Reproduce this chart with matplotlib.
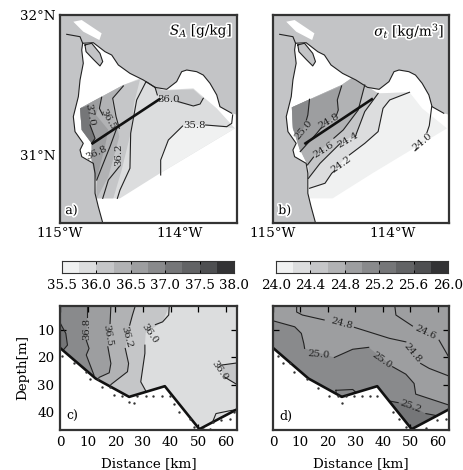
import matplotlib
matplotlib.use("Agg")
import matplotlib.pyplot as plt
import matplotlib.patheffects as pe
import numpy as np

plt.rcParams['font.family'] = 'DejaVu Serif'
plt.rcParams['mathtext.fontset'] = 'dejavuserif'

W, H = 464, 470
LON0 = -115.0
# greys of the ten colour classes
GREYS = ['#f0f1f1', '#dcddde', '#c5c6c8', '#b1b2b4', '#9d9ea0', '#898a8c', '#757678', '#626365', '#4e4f51', '#323234']
LAND = '#c3c4c6'
FRAME = '#333333'

# ---- coastline (degrees east of 115W, degrees N)
water = [(.189,31.798),(.278,31.802),(.375,31.738),(.431,31.714),(.486,31.643),(.583,31.583),(.694,31.536),
         (.792,31.483),(.889,31.469),(.972,31.524),(1.014,31.595),(1.056,31.607),(1.139,31.595),(1.194,31.571),
         (1.25,31.512),(1.306,31.429),(1.333,31.345),(1.431,31.298),(1.48,31.286)]
water_w = [(.361,30.5),(.319,30.631),(.292,30.726),(.292,30.869),(.278,30.94),(.181,30.988),(.167,31.036),
           (.194,31.083),(.125,31.167),(.111,31.274),(.153,31.417),(.167,31.536),(.194,31.655),(.181,31.75),(.189,31.798)]
delta_isl = [(.208,31.786),(.264,31.798),(.333,31.726),(.356,31.667),(.333,31.636),(.278,31.683),(.217,31.738),(.208,31.786)]
salt_flat = [(.111,31.952),(.181,31.964),(.347,31.869),(.328,31.821),(.194,31.881)]
river = [(.056,31.862),(.167,31.845),(.189,31.798)]
section_line = [(.272,31.083),(.828,31.398)]

# ---- panel a: absolute salinity
region = [(.167,31.333),(.528,31.5),(.667,31.548),(.792,31.483),(.861,31.464),(1.111,31.476),(1.306,31.333),
          (1.458,31.19),(.833,30.869),(.5,30.69),(.292,30.69),(.306,30.821),(.264,30.964),(.264,31.083),(.181,31.179)]
west = [(.292,30.69),(.306,30.821),(.264,30.964),(.264,31.083),(.181,31.179),(.167,31.333)]
sa_fills = [
 (0, [(.833,30.869),(.839,30.988),(.903,31.107),(1.028,31.214),(1.194,31.214),(1.458,31.19)]),
 (2, [(.792,31.483),(.861,31.46),(1.111,31.469),(1.194,31.405),(1.139,31.35),(1.0,31.369),(.833,31.412)]),
 (2, [(.528,31.5),(.667,31.54),(.617,31.369),(.589,31.155),(.514,30.893),(.444,30.69)] + west),
 (3, [(.528,31.5),(.431,31.393),(.458,31.274),(.494,31.131),(.403,30.845),(.306,30.69)] + west[1:]),
 (4, [(.347,31.417),(.3,31.286),(.403,31.179),(.375,31.06),(.3,30.81)] + west[2:]),
 (6, [(.244,31.357),(.25,31.226),(.292,31.107),(.264,31.083),(.181,31.179),(.167,31.333)]),
]
sa_lines = [
 [(.839,30.857),(.839,30.964),(.903,31.107),(1.022,31.207)],
 [(1.214,31.214),(1.389,31.202),(1.431,31.226),(1.439,31.286)],
 [(.792,31.483),(.811,31.429)],
 [(.986,31.381),(1.111,31.35),(1.167,31.364),(1.194,31.405)],
 [(.792,31.483),(.717,31.524),(.639,31.393),(.589,31.155),(.583,30.905),(.5,30.75),(.478,30.69)],
 [(.528,31.493),(.439,31.405),(.467,31.274),(.494,31.19)],
 [(.494,30.917),(.403,30.821),(.356,30.69)],
 [(.347,31.412),(.328,31.333),(.356,31.286)],
 [(.472,31.19),(.417,31.06),(.361,30.94),(.306,30.821)],
 [(.25,31.214),(.292,31.119),(.264,31.083)],
]
sa_labels = [('36.0',.903,31.393,0),('35.8',1.125,31.214,0),('36.2',.492,31.0,90),('36.8',.306,31.012,25),
             ('36.5',.403,31.25,-60),('37.0',.25,31.286,-80)]

# ---- panel b: sigma-t
st_base = [(.158,31.34),(.575,31.5),(.658,31.548),(.769,31.5),(.881,31.44),(1.144,31.448),(1.25,31.333),
           (1.458,31.19),(.833,30.869),(.5,30.69),(.306,30.69),(.306,30.762),(.297,30.917),(.228,31.036),(.167,31.19)]
st_w = [(.297,30.917),(.228,31.036),(.167,31.19),(.158,31.34),(.575,31.5),(.658,31.548),(.769,31.5)]
st_fills = [
 (1, [(.881,31.44),(1.144,31.448),(.978,31.393),(.922,31.333),(.881,31.167),(.769,31.083),(.617,30.988),
      (.492,30.869),(.436,30.798),(.306,30.762)] + st_w),
 (2, [(.881,31.44),(.769,31.31),(.7,31.155),(.547,31.071),(.394,30.94),(.297,30.833)] + st_w),
 (3, [(.714,31.321),(.589,31.179),(.478,31.095),(.339,30.988),(.289,30.929)] + st_w[1:]),
 (4, [(.575,31.493),(.539,31.393),(.547,31.321),(.478,31.238),(.367,31.155),(.228,31.024),(.167,31.19),(.158,31.34)]),
 (5, [(.306,31.398),(.292,31.286),(.256,31.19),(.186,31.155),(.167,31.19),(.158,31.34)]),
]
st_lines = [
 [(1.144,31.448),(.978,31.393),(.922,31.333),(.881,31.167),(.769,31.083),(.64,31.0)],
 [(.52,30.89),(.492,30.869),(.436,30.798),(.306,30.762)],
 [(.881,31.44),(.769,31.31),(.7,31.155),(.69,31.13)],
 [(.56,31.08),(.394,30.94),(.297,30.833)],
 [(.769,31.5),(.714,31.321),(.589,31.179),(.51,31.12)],
 [(.34,30.985),(.289,30.929)],
 [(.575,31.493),(.539,31.393),(.547,31.321),(.53,31.28)],
 [(.40,31.19),(.367,31.155),(.228,31.024)],
 [(.306,31.398),(.292,31.286),(.28,31.25)],
 [(1.33,31.345),(1.31,31.21),(1.29,31.16)],
 [(1.21,31.05),(1.19,31.03)],
]
st_labels = [('25.0',.256,31.183,50),('24.8',.472,31.238,30),('24.6',.422,31.036,32),('24.4',.631,31.107,30),
             ('24.2',.575,30.929,35),('24.0',1.256,31.095,40)]

# ---- colour bars
sa_levels = np.linspace(35.5, 38.0, 11)
st_levels = np.linspace(24.0, 26.0, 11)
sa_ticks = [35.5, 36.0, 36.5, 37.0, 37.5, 38.0]
st_ticks = [24.0, 24.4, 24.8, 25.2, 25.6, 26.0]

# ---- sections: bottom and measurement points
bottom_km = [0, 12.9, 25, 37.9, 50.4, 63.9]
bottom_depth = [16.5, 27.7, 34.4, 30.5, 46.2, 39]
c_dots = [(.8,19.5),(5.1,22.2),(9.3,25.2),(10.7,28),(13.9,28),(15.1,30.7),(18,30.7),(19.6,33.8),(22.3,34),(25,36.2),
          (26.8,36.6),(28,34),(31,34),(33.8,34),(36.8,34),(39.7,34),(41.3,37.1),(43.1,39.9),(47,42.6),(48.6,45.4),
          (51.6,46),(54.2,46),(55.2,43.5),(58.2,42.9),(61.6,42.6),(63,39.9)]
d_dots = [(1.8,19.5),(3.6,22.2),(6.3,22.2),(7.6,25.2),(12.3,28),(16.3,31),(20.5,34),(23.6,34),(26.6,34),(29.6,34),
          (32.4,34),(35.3,34),(38,34),(25.1,36.6),(43.7,39.9),(45.7,42.3),(48.3,45.4),(55.6,45.8),(59.8,42.8),(62.8,42.4)]

TOP, BOT = 1.2, 46.5
c_fills = [
 (1, [(0,TOP),(64,TOP),(64,BOT),(0,BOT)]),
 (0, [(55.2,43.5),(56.4,40.5),(61.2,39.5),(64,39),(64,BOT),(55.2,BOT)]),
 (2, [(57.6,22.8),(64,22),(64,29.9),(59.4,27.1)]),
 (2, [(0,TOP),(39.5,TOP),(37.1,7),(31,11),(30.7,15.5),(30.7,18.5),(29.2,28.9),(31,32.2),(31,BOT),(0,BOT)]),
 (3, [(0,TOP),(27.2,TOP),(26.2,4.5),(24.6,12),(23.6,16.7),(24.8,22.2),(24.4,25.2),(18.4,29.9),(18.4,BOT),(0,BOT)]),
 (4, [(0,TOP),(18.4,TOP),(18.1,7.6),(17.3,16.1),(18.4,22.2),(17.8,25.6),(14.1,27.3),(14.1,BOT),(0,BOT)]),
 (5, [(0,TOP),(9.9,TOP),(9.7,9),(9.5,13.7),(10.5,16.7),(9.5,19.1),(12.3,26.5),(12.3,BOT),(0,BOT)]),
 (6, [(0,7.3),(2.1,11.2),(2.7,15.5),(0,18)]),
]
c_lines = [
 [(9.9,TOP),(9.9,5.1)],
 [(9.5,13.7),(10.5,16.7),(9.5,19.1),(12.3,26.5)],
 [(18.4,TOP),(18.1,7.6)],
 [(17.3,16.1),(18.4,22.2),(17.8,25.6),(14.1,27.3)],
 [(27.2,TOP),(26.2,4.5),(25.2,8.2)],
 [(23.6,16.7),(24.8,22.2),(24.4,25.2),(18.4,29.9)],
 [(39.5,TOP),(39.3,4.5),(37.1,7),(34.5,8)],
 [(30.7,15.5),(30.7,18.5),(29.2,28.9),(31,32.2)],
 [(0,7.3),(2.1,11.2),(2.7,15.5),(1,17.5)],
 [(64,22),(58.2,22.8)],
 [(59.4,27.1),(64,29.9)],
 [(55.2,43.5),(56.4,40.5),(61.2,39.5),(64,39)],
]
c_labels = [('36.8',9.7,9.5,90),('36.5',17.4,12,-80),('36.2',24.2,12.5,-75),('36.0',32.5,11.2,-55),('36.0',57.6,24.8,-55)]

d_fills = [
 (4, [(0,TOP),(64,TOP),(64,BOT),(0,BOT)]),
 (3, [(8.6,TOP),(8.6,3.4),(10.7,4.5),(18.6,6.3),(29.6,9),(42.3,13),(48.3,14.3),(53.7,22.2),(56.8,24),(64,26.8),(64,TOP)]),
 (2, [(44.3,TOP),(44.7,4.5),(50.7,8.5),(60.4,13.7),(64,20),(64,TOP)]),
 (5, [(0,6.6),(7.9,8.8),(10.3,11.2),(11.2,14.9),(11.5,16.7),(22.3,20),(29,17),(34.8,16.3),(43.5,23.4),(48.3,26.1),(51.3,29.5),(51.9,33.4),(64,37.4),(64,BOT),(0,BOT)]),
 (6, [(42.3,35.9),(48,36.8),(55.6,40.5),(59.8,41.3),(59.8,BOT),(42.3,BOT)]),
]
d_lines = [
 [(44.3,TOP),(44.7,4.5),(50.7,8.5)],
 [(60.4,13.7),(64,20)],
 [(8.6,TOP),(8.6,3.4),(10.7,4.5),(18.6,6.3)],
 [(29.6,9),(42.3,13),(48.3,14.3)],
 [(53.7,22.2),(56.8,24),(64,26.8)],
 [(0,6.6),(7.9,8.8),(10.3,11.2),(11.2,14.9),(11.5,16.7)],
 [(22.3,20),(29,17),(34.8,16.3)],
 [(43.5,23.4),(48.3,26.1),(51.3,29.5),(51.9,33.4),(64,37.4)],
 [(42.3,35.9),(45.5,36.5)],
 [(55.6,40.5),(59.8,41.3)],
 [(22.9,32),(29,31.7),(30,32.6),(26.6,34.4),(23,33.8),(22.9,32)],
]
d_labels = [('24.8',25,7.6,-15),('24.6',55.5,11,-25),('24.8',50.8,18.5,-50),('25.0',16.5,19,-5),('25.0',39.5,21,-35),('25.2',50,37.8,-20)]


def axes_px(l, t, r, b):
    return fig.add_axes([l / W, 1 - b / H, (r - l) / W, (b - t) / H])


def shift(pts):
    return [(LON0 + x, y) for x, y in pts]


def style(ax):
    for s in ax.spines.values():
        s.set_linewidth(1.6)
        s.set_color(FRAME)
        s.set_zorder(20)


halo = [pe.withStroke(linewidth=2.5, foreground='white')]


def map_panel(ax, base, fills, lines, labels, title, letter, tx):
    ax.set_facecolor(LAND)
    ax.fill(*zip(*shift(water + [(1.48, 30.5)] + water_w)), color='white', lw=0, zorder=1)
    ax.fill(*zip(*shift(salt_flat)), color='white', lw=0, zorder=1)
    ax.fill(*zip(*shift(base)), color=GREYS[0] if letter == 'b)' else GREYS[1], lw=0, zorder=2)
    for i, p in fills:
        ax.fill(*zip(*shift(p)), color=GREYS[i], lw=0, zorder=2 + 0.01 * i)
    ax.fill(*zip(*shift(delta_isl)), color=LAND, lw=0, zorder=3)
    for p in (water[:-1], water_w, delta_isl, river):
        ax.plot(*zip(*shift(p)), color='#222222', lw=0.8, zorder=4)
    for p in lines:
        ax.plot(*zip(*shift(p)), color='#222222', lw=0.8, zorder=5)
    ax.plot(*zip(*shift(section_line)), color='#111111', lw=1.9, zorder=6)
    for s, x, y, r in labels:
        ax.text(LON0 + x, y, s, fontsize=7.3, rotation=r, ha='center', va='center', color='#222222', zorder=7)
    ax.text(tx, 0.925, title, transform=ax.transAxes, fontsize=9.8, ha='right', va='center', path_effects=halo, zorder=8)
    ax.text(0.03, 0.06, letter, transform=ax.transAxes, fontsize=9, ha='left', va='center', path_effects=halo, zorder=8)
    ax.set_xlim(LON0, LON0 + 1.475)
    ax.set_ylim(30.514, 32.0)
    ax.set_xticks([-115, -114])
    ax.set_xticklabels(['115°W', '114°W'], fontsize=9.7)
    ax.set_yticks([31, 32])
    ax.tick_params(length=0, pad=3)
    style(ax)


def colorbar(ax, levels, ticks):
    ax.pcolormesh(levels, [0, 1], np.arange(10).reshape(1, 10), cmap=matplotlib.colors.ListedColormap(GREYS))
    ax.set_xlim(levels[0], levels[-1])
    ax.set_yticks([])
    ax.set_xticks(ticks)
    ax.set_xticklabels([f'{t:.1f}' for t in ticks], fontsize=9.7)
    ax.tick_params(axis='x', direction='in', length=2.5, width=0.7, pad=4, top=True)
    for s in ax.spines.values():
        s.set_linewidth(0.8)
        s.set_color(FRAME)


def section(ax, fills, lines, labels, dots, letter):
    for i, p in fills:
        ax.fill(*zip(*p), color=GREYS[i], lw=0, zorder=1 + 0.01 * i)
    for p in lines:
        ax.plot(*zip(*p), color='#222222', lw=0.8, zorder=3)
    ax.fill(bottom_km + [64, 0], bottom_depth + [BOT + 1, BOT + 1], color='white', lw=0, zorder=4)
    ax.plot(bottom_km, bottom_depth, color='#111111', lw=1.9, zorder=5, clip_on=True)
    ax.scatter(*zip(*dots), s=3, color='#333333', lw=0, zorder=6)
    for s, x, y, r in labels:
        ax.text(x, y, s, fontsize=7.2, rotation=r, ha='center', va='center', color='#222222', zorder=7)
    ax.text(2.4, 41.5, letter, fontsize=9, ha='left', va='center', zorder=8)
    ax.set_xlim(0, 64)
    ax.set_ylim(BOT, TOP)
    ax.set_xticks(range(0, 61, 10))
    ax.set_yticks([10, 20, 30, 40])
    ax.tick_params(direction='in', top=True, right=True, length=4.5, width=0.9, labelsize=9.7, zorder=10, pad=4)
    ax.set_xlabel('Distance [km]', fontsize=9.7, labelpad=6)
    style(ax)


fig = plt.figure(figsize=(W / 100, H / 100), dpi=100)

a = axes_px(60, 15, 237, 223)
map_panel(a, region, sa_fills, sa_lines, sa_labels, r'$S_A$ [g/kg]', 'a)', 0.975)
a.set_yticklabels(['31°N', '32°N'], fontsize=9.7)

b = axes_px(273, 15, 449, 223)
map_panel(b, st_base, st_fills, st_lines, st_labels, r'$\sigma_t$ [kg/m$^3$]', 'b)', 0.975)
b.set_yticklabels([])

colorbar(axes_px(62, 261, 234, 273), sa_levels, sa_ticks)
colorbar(axes_px(276, 261, 448, 273), st_levels, st_ticks)

c = axes_px(60, 306, 237, 430)
section(c, c_fills, c_lines, c_labels, c_dots, 'c)')
c.set_ylabel('Depth[m]', fontsize=9.7, labelpad=6)

d = axes_px(273, 306, 449, 430)
section(d, d_fills, d_lines, d_labels, d_dots, 'd)')
d.set_yticklabels([])

fig.savefig('out.png', dpi=100)
